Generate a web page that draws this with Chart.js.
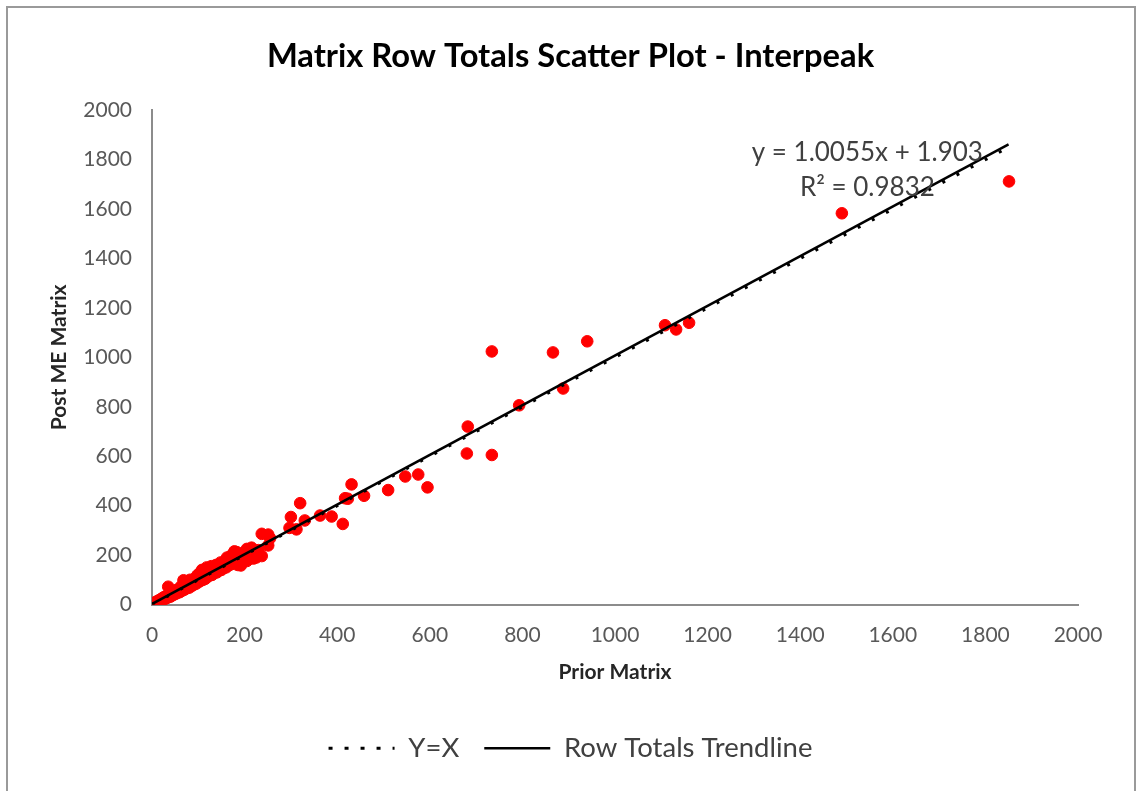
<!DOCTYPE html>
<html>
<head>
<meta charset="utf-8">
<script src="https://cdn.jsdelivr.net/npm/chart.js@4/dist/chart.umd.min.js"></script>
<style>
  html, body { margin: 0; padding: 0; background: #fff; }
  #wrap { position: relative; width: 1141px; height: 791px; }
  #frame {
    position: absolute; left: 6px; top: 6px; width: 1126px; height: 800px;
    border: 2px solid #9a9a9a; pointer-events: none;
  }
</style>
</head>
<body>
<div id="wrap">
  <canvas id="scatterChart" width="1141" height="791"></canvas>
  <div id="frame"></div>
</div>
<script>
// prior matrix row totals (x) vs post ME matrix row totals (y)
const priorTotals = [
  0, 2, 4, 6, 8, 10, 12, 14, 15, 18, 20, 22, 24, 26, 28, 30, 32, 34, 35, 38,
  40, 42, 45, 48, 50, 52, 55, 58, 60, 62, 65, 68, 70, 72, 75, 78, 80, 82, 85, 88,
  90, 92, 95, 98, 100, 102, 105, 108, 110, 112, 115, 118, 120, 122, 125, 128, 130, 132, 135, 138,
  140, 142, 145, 148, 150, 152, 155, 158, 160, 162, 165, 168, 170, 172, 175, 178, 180, 182, 185, 188,
  190, 192, 195, 198, 200, 205, 210, 215, 220, 225, 230,
  183, 205, 219, 237, 251, 237, 251, 255, 297, 300, 312, 320, 330, 363, 388, 412, 417, 423, 431, 458,
  510, 547, 575, 595, 680, 682, 734, 734, 793, 866, 888, 940, 1108, 1132, 1160, 1490, 1851
];
const postTotals = [
  0, 3, 1, 8, 5, 12, 9, 16, 10, 20, 14, 25, 18, 30, 22, 26, 36, 28, 72, 40,
  32, 46, 38, 55, 42, 58, 47, 62, 50, 72, 56, 98, 60, 80, 66, 90, 68, 100, 74, 92,
  80, 105, 84, 118, 90, 125, 96, 140, 100, 130, 104, 150, 112, 135, 118, 155, 120, 145, 128, 160,
  130, 148, 138, 170, 140, 165, 148, 178, 150, 190, 158, 176, 162, 200, 168, 215, 170, 195, 160, 205,
  178, 158, 185, 210, 190, 176, 200, 230, 205, 190, 220,
  212, 225, 186, 196, 239, 286, 283, 268, 310, 354, 304, 410, 340, 360, 356, 326, 430, 428, 486, 440,
  463, 518, 526, 474, 611, 720, 1024, 605, 806, 1020, 874, 1065, 1130, 1113, 1140, 1583, 1712
];

// reference line and fitted trendline (y = 1.0055x + 1.903)
const yxLineX = [0, 1850];
const yxLineY = [0, 1850];
const trendLineX = [0, 1850];
const trendLineY = [1.9, 1862.1];

const equationLines = ['y = 1.0055x + 1.903', 'R\u00b2 = 0.9832'];
const equationAt = [[1545, 1830], [1545, 1685]];

const axisTicks = [0, 200, 400, 600, 800, 1000, 1200, 1400, 1600, 1800, 2000];

function toPoints(xs, ys) {
    return xs.map((x, i) => ({ x: x, y: ys[i] }));
}

const equationLabel = {
    id: 'equationLabel',
    afterDatasetsDraw(chart) {
        const ctx = chart.ctx;
        const xs = chart.scales.x;
        const ys = chart.scales.y;
        ctx.save();
        ctx.font = '26px Lato, "Open Sans", sans-serif';
        ctx.fillStyle = '#404040';
        ctx.textAlign = 'center';
        ctx.textBaseline = 'middle';
        equationLines.forEach((line, i) => {
            ctx.fillText(line, xs.getPixelForValue(equationAt[i][0]), ys.getPixelForValue(equationAt[i][1]));
        });
        ctx.restore();
    }
};

const tickFont = { family: 'Lato, "Open Sans", sans-serif', size: 21 };
const axisTitleFont = { family: 'Lato, "Open Sans", sans-serif', size: 21, weight: 'bold' };

document.addEventListener('DOMContentLoaded', function() {
    const ctx = document.getElementById('scatterChart').getContext('2d');

    new Chart(ctx, {
        type: 'scatter',
        data: {
            datasets: [
                {
                    label: 'Row Totals',
                    data: toPoints(priorTotals, postTotals),
                    backgroundColor: '#ff0000',
                    borderColor: '#ff0000',
                    pointRadius: 5.8,
                    pointHoverRadius: 5.8,
                    order: 3
                },
                {
                    type: 'line',
                    label: 'Y=X',
                    data: toPoints(yxLineX, yxLineY),
                    borderColor: '#000000',
                    backgroundColor: 'transparent',
                    borderWidth: 3,
                    borderDash: [3, 13],
                    pointRadius: 0,
                    fill: false,
                    order: 1
                },
                {
                    type: 'line',
                    label: 'Row Totals Trendline',
                    data: toPoints(trendLineX, trendLineY),
                    borderColor: '#000000',
                    backgroundColor: 'transparent',
                    borderWidth: 2.5,
                    pointRadius: 0,
                    fill: false,
                    order: 2
                }
            ]
        },
        options: {
            responsive: false,
            animation: false,
            layout: {
                padding: { left: 0, right: 0, top: 0, bottom: 19 }
            },
            scales: {
                x: {
                    type: 'linear',
                    min: 0,
                    max: 2000,
                    afterBuildTicks: scale => { scale.ticks = axisTicks.map(v => ({ value: v })); },
                    afterFit: scale => { scale.height = 105; },
                    grid: { color: 'transparent', drawTicks: false },
                    border: { display: true, color: '#8c8c8c', width: 2 },
                    ticks: { color: '#595959', font: tickFont, padding: 18, maxRotation: 0,
                             callback: v => String(v) },
                    title: {
                        display: true,
                        text: 'Prior Matrix',
                        color: '#262626',
                        font: axisTitleFont,
                        padding: { top: 0, bottom: 25 }
                    }
                },
                y: {
                    type: 'linear',
                    min: 0,
                    max: 2000,
                    afterBuildTicks: scale => { scale.ticks = axisTicks.map(v => ({ value: v })); },
                    afterFit: scale => { scale.width = 152; },
                    grid: { color: 'transparent', drawTicks: false },
                    border: { display: true, color: '#8c8c8c', width: 2 },
                    ticks: { color: '#595959', font: tickFont, padding: 20,
                             callback: v => String(v) },
                    title: {
                        display: true,
                        text: 'Post ME Matrix',
                        color: '#262626',
                        font: axisTitleFont,
                        padding: { top: 47, bottom: 0 }
                    }
                },
                // empty right-hand margin so the chart area ends where the reference's does
                rightMargin: {
                    type: 'linear',
                    position: 'right',
                    afterFit: scale => { scale.width = 63; },
                    grid: { display: false, drawTicks: false },
                    border: { display: false },
                    ticks: { display: false }
                }
            },
            plugins: {
                title: {
                    display: true,
                    text: 'Matrix Row Totals Scatter Plot - Interpeak',
                    color: '#000000',
                    font: { family: 'Lato, "Open Sans", sans-serif', size: 32.7, weight: 'bold' },
                    padding: { top: 37, bottom: 34 }
                },
                legend: {
                    position: 'bottom',
                    labels: {
                        color: '#404040',
                        font: { family: 'Lato, "Open Sans", sans-serif', size: 27.5 },
                        boxWidth: 66,
                        boxHeight: 0,
                        padding: 25,
                        filter: item => item.text !== 'Row Totals'
                    }
                },
                tooltip: { enabled: false }
            }
        },
        plugins: [equationLabel]
    });
});
</script>
</body>
</html>
